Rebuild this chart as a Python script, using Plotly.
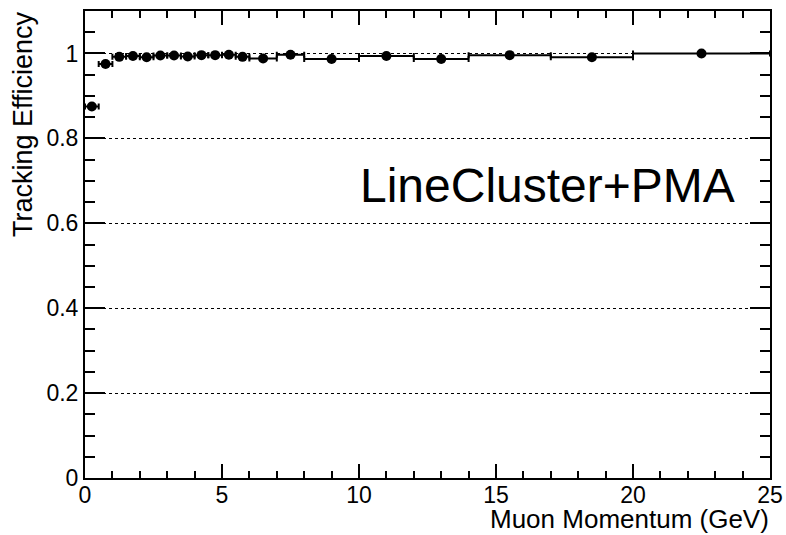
import plotly.graph_objects as go

# Momentum bins (GeV): lower / upper edges and efficiency per bin
bin_lo = [0.0, 0.5, 1.0, 1.5, 2.0, 2.5, 3.0, 3.5, 4.0, 4.5, 5.0, 5.5,
          6.0, 7.0, 8.0, 10.0, 12.0, 14.0, 17.0, 20.0]
bin_hi = [0.5, 1.0, 1.5, 2.0, 2.5, 3.0, 3.5, 4.0, 4.5, 5.0, 5.5, 6.0,
          7.0, 8.0, 10.0, 12.0, 14.0, 17.0, 20.0, 25.0]
efficiency = [0.875, 0.975, 0.992, 0.994, 0.991, 0.995, 0.995, 0.993, 0.996, 0.996, 0.997, 0.992,
              0.988, 0.997, 0.987, 0.994, 0.987, 0.996, 0.991, 1.000]
eff_err = [0.004, 0.003, 0.002, 0.002, 0.002, 0.002, 0.002, 0.002, 0.002, 0.002, 0.002, 0.002,
           0.002, 0.002, 0.002, 0.002, 0.002, 0.002, 0.002, 0.001]

x_center = [(a + b) / 2 for a, b in zip(bin_lo, bin_hi)]
x_half = [(b - a) / 2 for a, b in zip(bin_lo, bin_hi)]

FONT = "Liberation Sans, Arial, Helvetica, sans-serif"

fig = go.Figure()
fig.add_trace(go.Scatter(
    x=x_center, y=efficiency, mode="markers",
    marker=dict(symbol="circle", size=10, color="black"),
    error_x=dict(type="data", array=x_half, symmetric=True,
                 color="black", thickness=2, width=3),
    error_y=dict(type="data", array=eff_err, symmetric=True,
                 color="black", thickness=2, width=0),
    showlegend=False,
))

axis_common = dict(
    showline=True, linecolor="black", linewidth=2, mirror="allticks",
    ticks="inside", tickcolor="black", tickwidth=2,
    tickfont=dict(family=FONT, size=23, color="black"),
    zeroline=False, automargin=False,
)

fig.update_xaxes(
    range=[0, 25], tickmode="linear", tick0=0, dtick=5, ticklen=14,
    showgrid=False, ticklabelstandoff=-5,
    minor=dict(tickmode="linear", tick0=0, dtick=1, ticks="inside",
               ticklen=7, tickcolor="black", tickwidth=2, showgrid=False),
    **axis_common,
)
fig.update_yaxes(
    range=[0, 1.1], tickmode="array",
    tickvals=[0, 0.2, 0.4, 0.6, 0.8, 1.0],
    ticktext=["0", "0.2", "0.4", "0.6", "0.8", "1"],
    ticklen=20,
    showgrid=True, gridcolor="black", griddash="dot", gridwidth=1,
    minor=dict(tickmode="linear", tick0=0, dtick=0.05, ticks="inside",
               ticklen=10, tickcolor="black", tickwidth=2, showgrid=False),
    **axis_common,
)

fig.add_annotation(
    text="LineCluster+PMA", x=23.8, y=0.69, xref="x", yref="y",
    xanchor="right", yanchor="middle", showarrow=False,
    font=dict(family=FONT, size=48, color="black"),
)
fig.add_annotation(
    text="Muon Momentum (GeV)", x=1, y=0, xref="paper", yref="paper",
    xanchor="right", yanchor="bottom", yshift=-57, borderpad=0, showarrow=False,
    font=dict(family=FONT, size=26, color="black"),
)
fig.add_annotation(
    text="Tracking Efficiency", x=0, y=1, xref="paper", yref="paper",
    xanchor="center", yanchor="top", xshift=-62, yshift=2, showarrow=False,
    textangle=-90,
    font=dict(family=FONT, size=27, color="black"),
)

fig.update_layout(
    width=786, height=535,
    margin=dict(l=85, r=16, t=11, b=57),
    paper_bgcolor="white", plot_bgcolor="white",
)

fig.write_html("out.html")
